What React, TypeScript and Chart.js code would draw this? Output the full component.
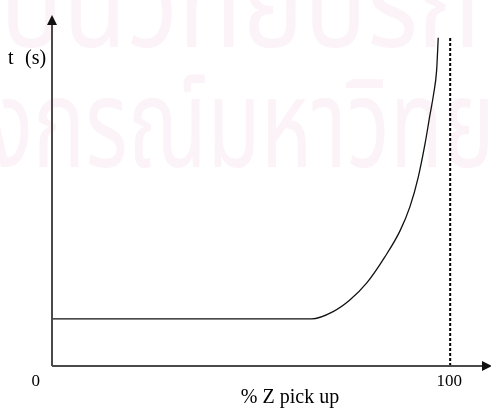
import React, { useEffect, useRef } from "react";
import { Chart, registerables } from "chart.js";

Chart.register(...registerables);

// Curve: % Z pick up (x) vs time t (y), arbitrary units 0..100
const zPickup = [0, 65.2, 70.6, 74.8, 79.0, 83.6, 87.4, 89.9, 92.0, 93.7, 94.9, 95.8, 96.6, 97.0];
const tSeconds = [13.4, 13.4, 15.5, 18.8, 23.6, 31.1, 38.5, 45.4, 53.9, 63.4, 71.4, 77.2, 84.3, 93.5];

// Dashed asymptote at 100 %
const limitZ = [100, 100];
const limitT = [0, 93.5];

const xTickValues = [0, 100];
const xTickLabels = ["0", "100"];
const xAxisTitle = "% Z pick up";
const yAxisTitleVar = "t";
const yAxisTitleUnit = "(s)";
const watermarkLines = ["สถาบันวิทยบริการ", "จุฬาลงกรณ์มหาวิทยาลัย"];

const SERIF = "'Liberation Serif', 'Times New Roman', serif";

const decorPlugin = {
  id: "decor",
  beforeDatasetsDraw(chart: any) {
    const ctx = chart.ctx;
    ctx.save();
    ctx.fillStyle = "#fbf3f7";
    ctx.font = "400 124px 'Noto Sans Thai', 'Loma', 'Garuda', sans-serif";
    ctx.textAlign = "left";
    ctx.textBaseline = "alphabetic";
    const w1a = ctx.measureText("สถาบั").width;
    const w1b = ctx.measureText("นวิทยบ").width;
    const s1 = 304 / w1b;
    ctx.save();
    ctx.scale(s1, 1);
    ctx.fillText(watermarkLines[0], 63 / s1 - w1a, 47);
    ctx.restore();
    const w2a = ctx.measureText("จุฬาลง").width;
    const w2b = ctx.measureText("กรณ์มหาวิ").width;
    const s2 = 357 / w2b;
    ctx.save();
    ctx.scale(s2, 1);
    ctx.fillText(watermarkLines[1], 33 / s2 - w2a, 167);
    ctx.restore();
    ctx.restore();
  },
  afterDraw(chart: any) {
    const ctx = chart.ctx;
    const xs = chart.scales.x;
    const ys = chart.scales.y;
    const ox = xs.getPixelForValue(0);
    const oy = ys.getPixelForValue(0);
    ctx.save();
    ctx.strokeStyle = "#4a4a4a";
    ctx.fillStyle = "#111";
    ctx.lineWidth = 2;
    ctx.beginPath();
    ctx.moveTo(ox, oy);
    ctx.lineTo(ox, 24);
    ctx.moveTo(ox, oy);
    ctx.lineTo(484, oy);
    ctx.stroke();
    ctx.beginPath();
    ctx.moveTo(ox, 15);
    ctx.lineTo(ox - 5, 25);
    ctx.lineTo(ox + 5, 25);
    ctx.closePath();
    ctx.fill();
    ctx.beginPath();
    ctx.moveTo(492, oy);
    ctx.lineTo(482, oy - 5);
    ctx.lineTo(482, oy + 5);
    ctx.closePath();
    ctx.fill();

    ctx.fillStyle = "#000";
    ctx.textBaseline = "alphabetic";
    ctx.font = `17px ${SERIF}`;
    xTickValues.forEach((v, i) => {
      const px = xs.getPixelForValue(v);
      if (i === 0) {
        ctx.textAlign = "right";
        ctx.fillText(xTickLabels[i], px - 12, 386);
      } else {
        ctx.textAlign = "center";
        ctx.fillText(xTickLabels[i], px - 1, 386);
      }
    });
    ctx.font = `20px ${SERIF}`;
    ctx.textAlign = "center";
    ctx.fillText(xAxisTitle, 290, 403);
    ctx.textAlign = "left";
    ctx.fillText(yAxisTitleVar, 8, 64);
    ctx.fillText(yAxisTitleUnit, 25, 64);
    ctx.restore();
  },
};

export default function App() {
  const ref = useRef<HTMLCanvasElement | null>(null);
  useEffect(() => {
    document.body.style.margin = "0";
    if (!ref.current) return;
    const chart = new Chart(ref.current, {
      type: "line",
      data: {
        datasets: [
          {
            data: zPickup.map((x, i) => ({ x, y: tSeconds[i] })),
            borderColor: "#111",
            borderWidth: 1.3,
            pointRadius: 0,
            cubicInterpolationMode: "monotone",
            fill: false,
          },
          {
            data: limitZ.map((x, i) => ({ x, y: limitT[i] })),
            borderColor: "#000",
            borderWidth: 2,
            borderDash: [3, 2],
            pointRadius: 0,
            fill: false,
          },
        ],
      },
      options: {
        responsive: false,
        animation: false,
        events: [],
        layout: { padding: { left: 52, right: 1, top: 15, bottom: 42 } },
        plugins: { legend: { display: false }, tooltip: { enabled: false } },
        scales: {
          x: { type: "linear", min: 0, max: 110, display: false },
          y: { type: "linear", min: 0, max: 100, display: false },
        },
      },
      plugins: [decorPlugin],
    });
    return () => chart.destroy();
  }, []);
  return (
    <div style={{ width: 491, height: 408 }}>
      <canvas ref={ref} width={491} height={408} />
    </div>
  );
}
